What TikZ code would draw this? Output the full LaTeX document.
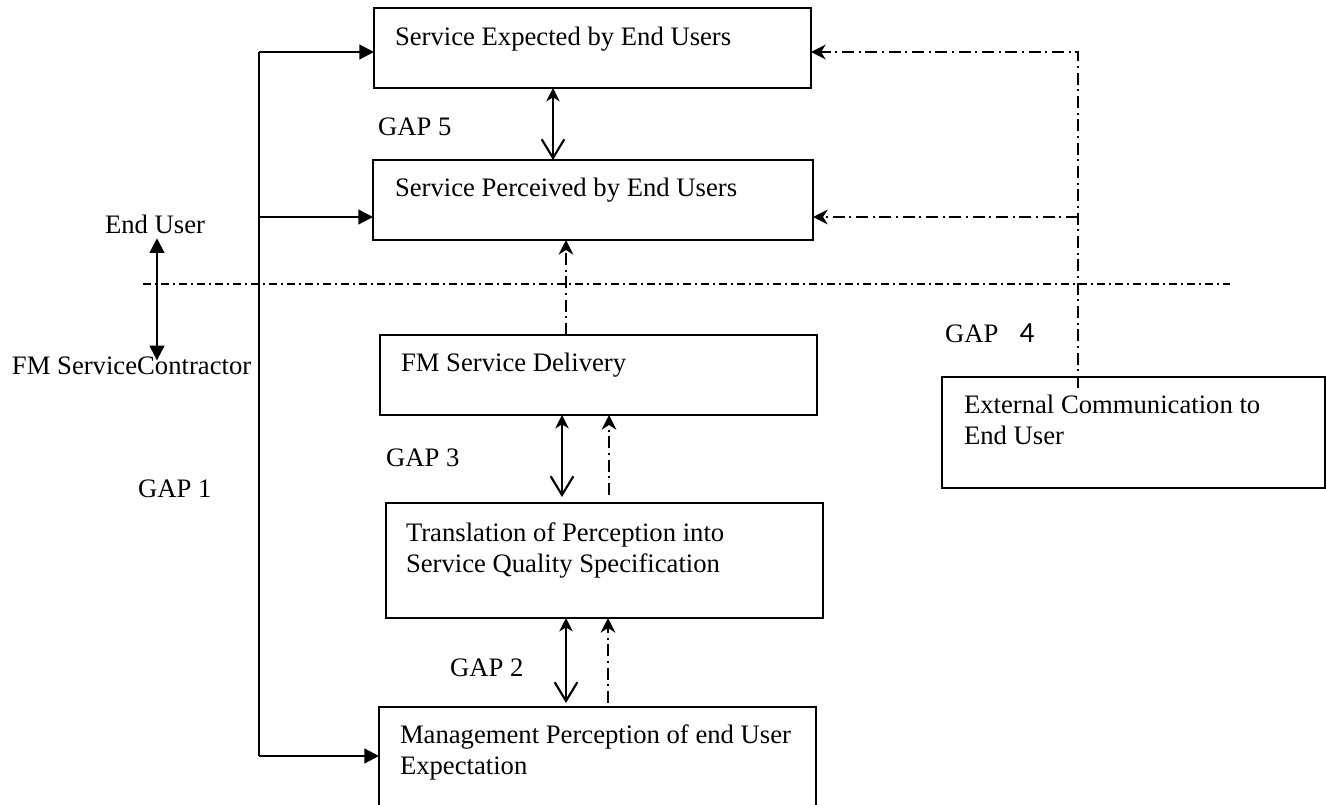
\documentclass[tikz,border=0pt]{standalone}
\usepackage{fontspec}
\setmainfont{Liberation Serif}
\newfontfamily\digitfont{Carlito}
\usetikzlibrary{arrows.meta}
\begin{document}
\begin{tikzpicture}[x=0.75pt,y=-0.75pt,
  every node/.style={inner sep=0pt, outer sep=0pt},
  box/.style={draw, line width=1.5pt, rectangle},
  lbl/.style={anchor=base west, align=left, font=\fontsize{20}{23.25}\selectfont},
  fwd/.style={line width=1.7pt, -{Triangle[length=11pt,width=11pt]}},
  ends/.style={line width=1.7pt, {Triangle[length=11pt,width=11pt]}-{Triangle[length=11pt,width=11pt]}},
  gaparr/.style={line width=1.6pt, {Stealth[length=10pt,width=10pt,inset=3pt]}-{Straight Barb[length=14pt,width=17pt]}},
  dd/.style={line width=1.4pt, dash pattern=on 9pt off 3.5pt on 1.5pt off 3.5pt},
  ddarr/.style={dd, -{Stealth[length=11pt,width=11pt,inset=3.5pt]}},
  sepline/.style={line width=1.2pt, dash pattern=on 6pt off 3pt on 1.5pt off 3pt}
]
\useasboundingbox (0,0) rectangle (1326,805);

% boxes
\node[box, minimum width=327.75pt, minimum height=60pt] (b1) at (592.5,48) {};
\node[box, minimum width=330pt, minimum height=60pt] (b2) at (593,200) {};
\node[box, minimum width=327.75pt, minimum height=60pt] (b3) at (598.5,375) {};
\node[box, minimum width=327.75pt, minimum height=86.25pt] (b4) at (604.5,560.5) {};
\node[box, minimum width=327.75pt, minimum height=81pt] (b5) at (597.5,761) {};
\node[box, minimum width=287.25pt, minimum height=83.25pt] (b6) at (1133.5,432.5) {};

% box texts (base anchor = baseline of the last line)
\node[lbl] (t1) at (395,46) {Service Expected by End Users};
\node[lbl] (t2) at (395,197) {Service Perceived by End Users};
\node[lbl] (t3) at (401,371) {FM Service Delivery};
\node[lbl] (t4) at (406,572) {Translation of Perception into\\Service Quality Specification};
\node[lbl] (t5) at (400,774) {Management Perception of end User\\Expectation};
\node[lbl] (t6) at (964,444) {External Communication to\\End User};

% free labels
\node[lbl] (eu) at (105,234) {End User};
\node[lbl] (fm) at (12,374) {FM ServiceContractor};
\node[lbl] (g1) at (138,497) {GAP 1};
\node[lbl] (g5) at (378,136) {GAP 5};
\node[lbl] (g3) at (386,466) {GAP 3};
\node[lbl] (g2) at (450,676) {GAP 2};
\node[lbl] (g4) at (945,342) {GAP\hspace*{16pt}{\digitfont\fontsize{22}{24}\selectfont 4}};

% left feed line
\coordinate (L1) at (259,52);
\coordinate (L2) at (259,217);
\coordinate (L3) at (259,756);
\draw[line width=1.7pt] (L1) -- (L3);
\draw[fwd] (L1) -- (L1 -| b1.west);
\draw[fwd] (L2) -- (L2 -| b2.west);
\draw[fwd] (L3) -- (L3 -| b5.west);

% end user / contractor
\draw[ends] ([shift={(2,4)}]eu.south) -- ([shift={(2,4)}]eu.south |- fm.north);

% separator
\coordinate (s1) at (143,284);
\coordinate (s2) at (1230,284);
\draw[sepline] (s1) -- (s2);

% gap arrows
\draw[gaparr] (553,0 |- b1.south) -- (553,0 |- b2.north);
\draw[gaparr] (562,0 |- b3.south) -- ([shift={(0,-6)}]562,0 |- b4.north);
\draw[gaparr] (566,0 |- b4.south) -- ([shift={(0,-4)}]566,0 |- b5.north);

% dash-dot feedback arrows
\draw[ddarr] (566,0 |- b3.north) -- (566,0 |- b2.south);
\draw[ddarr] ([shift={(0,-8)}]609,0 |- b4.north) -- (609,0 |- b3.south);
\draw[ddarr] ([shift={(0,-4)}]608,0 |- b5.north) -- (608,0 |- b4.south);

% external communication
\coordinate (c1) at (1078,52);
\coordinate (c2) at (1078,217);
\draw[ddarr] ([shift={(0,11)}]1078,0 |- b6.north) -- (c1) -- (c1 -| b1.east);
\draw[ddarr] (c2) -- (c2 -| b2.east);
\end{tikzpicture}
\end{document}
